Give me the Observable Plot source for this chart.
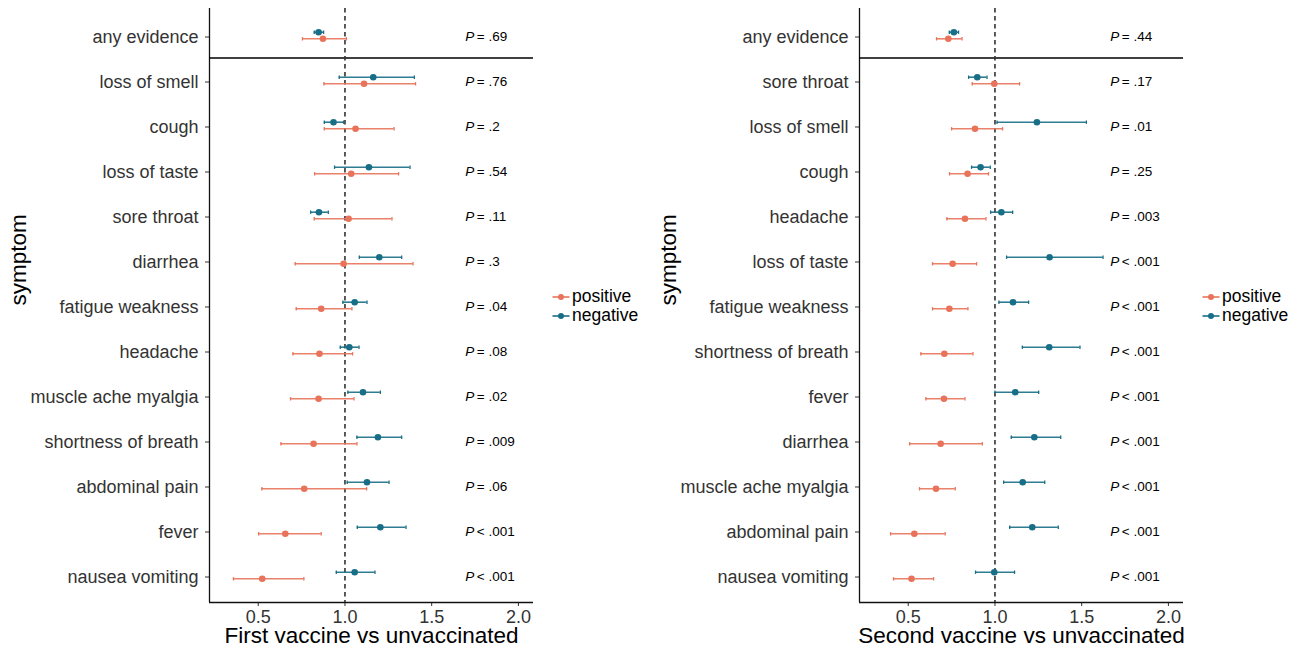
<!DOCTYPE html>
<html>
<head>
<meta charset="utf-8">
<script src="https://cdn.jsdelivr.net/npm/d3@7"></script>
<script src="https://cdn.jsdelivr.net/npm/@observablehq/plot@0.6"></script>
<style>
  html, body { margin: 0; padding: 0; background: #fff; }
  #wrap { position: relative; width: 1301px; height: 651px; font-family: "Liberation Sans", Arial, sans-serif; }
  #wrap svg.plot { position: absolute; top: 0; }
  .legend { position: absolute; font-size: 17.5px; color: #000; line-height: 19px; }
  .legend .row { display: flex; align-items: center; height: 19px; }
  .legend svg { margin-right: 2px; }
</style>
</head>
<body>
<div id="wrap"></div>
<script>
// ---------- Data ----------
const groups = ["positive", "negative"];
const colors = ["#E8735A", "#176E86"];

// Panel 1: First vaccine vs unvaccinated
const symptoms1 = ["any evidence", "loss of smell", "cough", "loss of taste", "sore throat", "diarrhea",
  "fatigue weakness", "headache", "muscle ache myalgia", "shortness of breath", "abdominal pain", "fever", "nausea vomiting"];
const pos1   = [0.873, 1.110, 1.061, 1.036, 1.021, 0.992, 0.863, 0.853, 0.848, 0.819, 0.765, 0.656, 0.523];
const pos1Lo = [0.755, 0.879, 0.881, 0.825, 0.823, 0.713, 0.719, 0.700, 0.686, 0.631, 0.521, 0.502, 0.357];
const pos1Hi = [1.008, 1.407, 1.283, 1.309, 1.271, 1.392, 1.040, 1.044, 1.052, 1.069, 1.125, 0.863, 0.763];
const neg1   = [0.848, 1.163, 0.934, 1.138, 0.850, 1.198, 1.056, 1.025, 1.104, 1.190, 1.127, 1.204, 1.056];
const neg1Lo = [0.823, 0.967, 0.881, 0.940, 0.802, 1.083, 0.988, 0.973, 1.017, 1.069, 1.013, 1.071, 0.950];
const neg1Hi = [0.877, 1.400, 0.992, 1.375, 0.904, 1.327, 1.127, 1.081, 1.204, 1.327, 1.254, 1.352, 1.173];
const pOp1   = ["=", "=", "=", "=", "=", "=", "=", "=", "=", "=", "=", "<", "<"];
const pVal1  = [".69", ".76", ".2", ".54", ".11", ".3", ".04", ".08", ".02", ".009", ".06", ".001", ".001"];

// Panel 2: Second vaccine vs unvaccinated
const symptoms2 = ["any evidence", "sore throat", "loss of smell", "cough", "headache", "loss of taste",
  "fatigue weakness", "shortness of breath", "fever", "diarrhea", "muscle ache myalgia", "abdominal pain", "nausea vomiting"];
const pos2   = [0.731, 0.996, 0.885, 0.842, 0.827, 0.756, 0.737, 0.708, 0.706, 0.687, 0.660, 0.535, 0.519];
const pos2Lo = [0.663, 0.869, 0.750, 0.738, 0.723, 0.640, 0.640, 0.573, 0.602, 0.508, 0.565, 0.398, 0.415];
const pos2Hi = [0.810, 1.142, 1.044, 0.963, 0.948, 0.894, 0.844, 0.873, 0.827, 0.927, 0.771, 0.713, 0.646];
const neg2   = [0.763, 0.898, 1.242, 0.917, 1.037, 1.315, 1.104, 1.313, 1.117, 1.227, 1.160, 1.215, 0.996];
const neg2Lo = [0.737, 0.848, 1.012, 0.865, 0.975, 1.067, 1.023, 1.158, 1.000, 1.094, 1.050, 1.085, 0.888];
const neg2Hi = [0.790, 0.954, 1.527, 0.973, 1.102, 1.623, 1.194, 1.490, 1.252, 1.379, 1.287, 1.365, 1.113];
const pOp2   = ["=", "=", "=", "=", "=", "<", "<", "<", "<", "<", "<", "<", "<"];
const pVal2  = [".44", ".17", ".01", ".25", ".003", ".001", ".001", ".001", ".001", ".001", ".001", ".001", ".001"];

const xTicks = [0.5, 1.0, 1.5, 2.0];
const xTitle1 = "First vaccine vs unvaccinated";
const xTitle2 = "Second vaccine vs unvaccinated";
const yTitle = "symptom";

// ---------- Drawing ----------
const capSymbol = {
  draw(ctx, size) {
    const r = Math.sqrt(size / Math.PI);
    ctx.moveTo(0, -r);
    ctx.lineTo(0, r);
  }
};

function panel(symptoms, pos, posLo, posHi, neg, negLo, negHi, pOp, pVal, title, pX) {
  const n = symptoms.length;
  const rows = symptoms.map((s, i) => ({i, s, op: pOp[i], val: pVal[i]}));
  const posRows = symptoms.map((s, i) => ({i, group: "positive", est: pos[i], lo: posLo[i], hi: posHi[i]}));
  const negRows = symptoms.map((s, i) => ({i, group: "negative", est: neg[i], lo: negLo[i], hi: negHi[i]}));
  const xDomain = [0.219, 2.087];
  const yDomain = [-0.6, n - 1 + 0.6];

  const groupMarks = (data, dy) => [
    Plot.ruleY(data, {x1: "lo", x2: "hi", y: "i", dy, stroke: "group", strokeWidth: 1.6, strokeOpacity: 0.9}),
    Plot.dot(data, {x: "lo", y: "i", dy, symbol: capSymbol, r: 1.7, stroke: "group", strokeWidth: 1.3, fill: "none"}),
    Plot.dot(data, {x: "hi", y: "i", dy, symbol: capSymbol, r: 1.7, stroke: "group", strokeWidth: 1.3, fill: "none"}),
    Plot.dot(data, {x: "est", y: "i", dy, r: 3.3, fill: "group", stroke: "none"})
  ];

  const svg = Plot.plot({
    width: 545,
    height: 651,
    marginLeft: 209,
    marginRight: 12,
    marginTop: 8,
    marginBottom: 49,
    style: {fontFamily: "'Liberation Sans', Arial, sans-serif", color: "#333", background: "transparent", overflow: "visible"},
    x: {domain: xDomain, label: null},
    y: {domain: yDomain, reverse: true, label: null},
    color: {domain: groups, range: colors},
    marks: [
      Plot.axisX({ticks: xTicks, tickFormat: d3.format(".1f"), tickSize: 4, tickPadding: 4, fontSize: 18, label: null, stroke: "#333"}),
      Plot.axisY({ticks: d3.range(n), tickFormat: i => symptoms[i], tickSize: 4, tickPadding: 7, fontSize: 18, label: null, stroke: "#333", dy: 1.5}),
      Plot.ruleX([xDomain[0]], {stroke: "#111", strokeWidth: 1.3}),
      Plot.ruleY([yDomain[1]], {stroke: "#111", strokeWidth: 1.3}),
      Plot.ruleY([0.5], {stroke: "#000", strokeWidth: 1.3}),
      Plot.ruleX([1], {stroke: "#333", strokeWidth: 1.6, strokeDasharray: "4.5,3.5"}),
      ...groupMarks(negRows, -3.3),
      ...groupMarks(posRows, 3.3),
      Plot.text(rows, {x: () => pX, y: "i", text: () => "P", fontStyle: "italic", textAnchor: "start", fontSize: 13.5, fill: "#000", dy: 1}),
      Plot.text(rows, {x: () => pX, y: "i", text: d => d.op + " " + d.val, dx: 11.5, textAnchor: "start", fontSize: 13.5, fill: "#000", dy: 1}),
      Plot.text([title], {frameAnchor: "bottom", dy: 40, fontSize: 22.5, fill: "#000"}),
      Plot.text([yTitle], {frameAnchor: "left", dx: -191, rotate: -90, fontSize: 22.5, fill: "#000"})
    ]
  });
  svg.classList.add("plot");
  return svg;
}

function legend(left, top) {
  const div = document.createElement("div");
  div.className = "legend";
  div.style.left = left + "px";
  div.style.top = top + "px";
  groups.forEach((g, k) => {
    const row = document.createElement("div");
    row.className = "row";
    row.innerHTML = `<svg width="18" height="12"><line x1="0.5" x2="17.5" y1="6" y2="6" stroke="${colors[k]}" stroke-width="1.6"/><circle cx="9" cy="6" r="3" fill="${colors[k]}"/></svg><span>${g}</span>`;
    div.appendChild(row);
  });
  return div;
}

const wrap = document.getElementById("wrap");
const p1 = panel(symptoms1, pos1, pos1Lo, pos1Hi, neg1, neg1Lo, neg1Hi, pOp1, pVal1, xTitle1, 1.694);
p1.style.left = "0px";
wrap.appendChild(p1);
wrap.appendChild(legend(552, 287));
const p2 = panel(symptoms2, pos2, pos2Lo, pos2Hi, neg2, neg2Lo, neg2Hi, pOp2, pVal2, xTitle2, 1.665);
p2.style.left = "650px";
wrap.appendChild(p2);
wrap.appendChild(legend(1202, 287));
</script>
</body>
</html>
